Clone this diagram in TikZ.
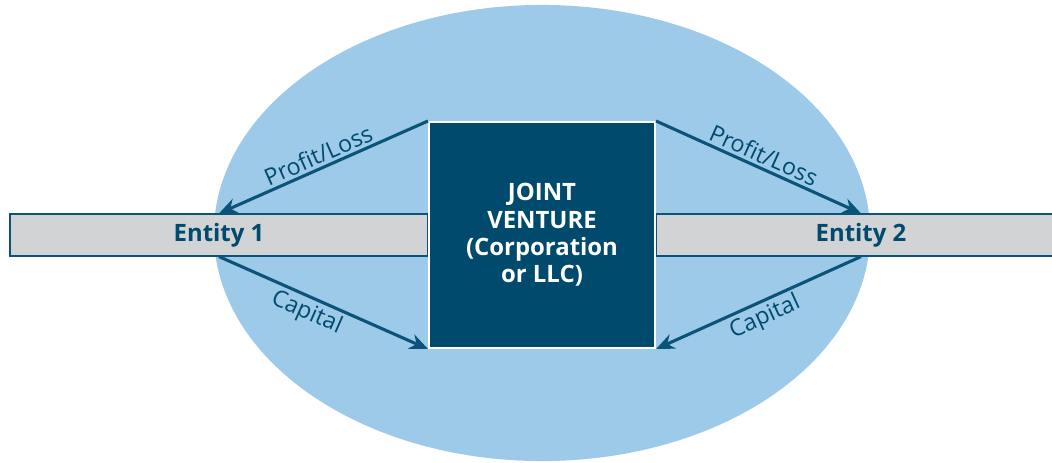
\documentclass[tikz,border=0pt]{standalone}
\usepackage{fontspec}
\setmainfont{Open Sans}
\usetikzlibrary{arrows.meta, positioning, shapes.geometric}
\definecolor{jvNavy}{HTML}{004A6E}
\definecolor{jvSky}{HTML}{9DCAE8}
\definecolor{jvGray}{HTML}{D1D3D4}
\definecolor{jvLine}{HTML}{0B5378}
\tikzset{
  arrowN/.style={-{Stealth[length=13pt, width=11pt]}, draw=jvLine, fill=jvLine, line width=2.2pt},
  barG/.style={rectangle, draw=jvLine, fill=jvGray, line width=1.4pt,
               minimum height=1.03cm, inner sep=0pt, text=jvNavy,
               font=\bfseries\fontsize{17}{20}\selectfont},
  boxJV/.style={rectangle, draw=white, fill=jvNavy, line width=1.4pt,
                minimum size=5.65cm, inner sep=0pt, text=white, align=center,
                font=\bfseries\fontsize{17}{19.5}\selectfont},
  flowLbl/.style={text=jvNavy, sloped, inner sep=2pt, font=\fontsize{16.5}{18}\selectfont},
}
\begin{document}
\begin{tikzpicture}[x=0.025cm, y=-0.025cm]
  \useasboundingbox (0,0) rectangle (1052,462);
  \clip (0,0) rectangle (1052,462);
  \node[ellipse, fill=jvSky, minimum width=16.4cm, minimum height=11.4cm, inner sep=0pt] (oval) at (542,233) {};
  \node[barG, minimum width=10.45cm] (ent1) at (219,235) {Entity 1};
  \node[barG, minimum width=10.25cm] (ent2) at (861,235) {Entity 2};
  \node[boxJV] (jv) at (542,235) {JOINT\\VENTURE\\(Corporation\\or LLC)};
  \draw[arrowN] (jv.north west) -- node[flowLbl, above, pos=0.5] {Profit/Loss} (ent1.north);
  \draw[arrowN] (jv.north east) -- node[flowLbl, above, pos=0.5] {Profit/Loss} (ent2.north);
  \draw[arrowN] (ent1.south) -- node[flowLbl, below, pos=0.45] {Capital} (jv.south west);
  \draw[arrowN] (ent2.south) -- node[flowLbl, below, pos=0.5] {Capital} (jv.south east);
\end{tikzpicture}
\end{document}
